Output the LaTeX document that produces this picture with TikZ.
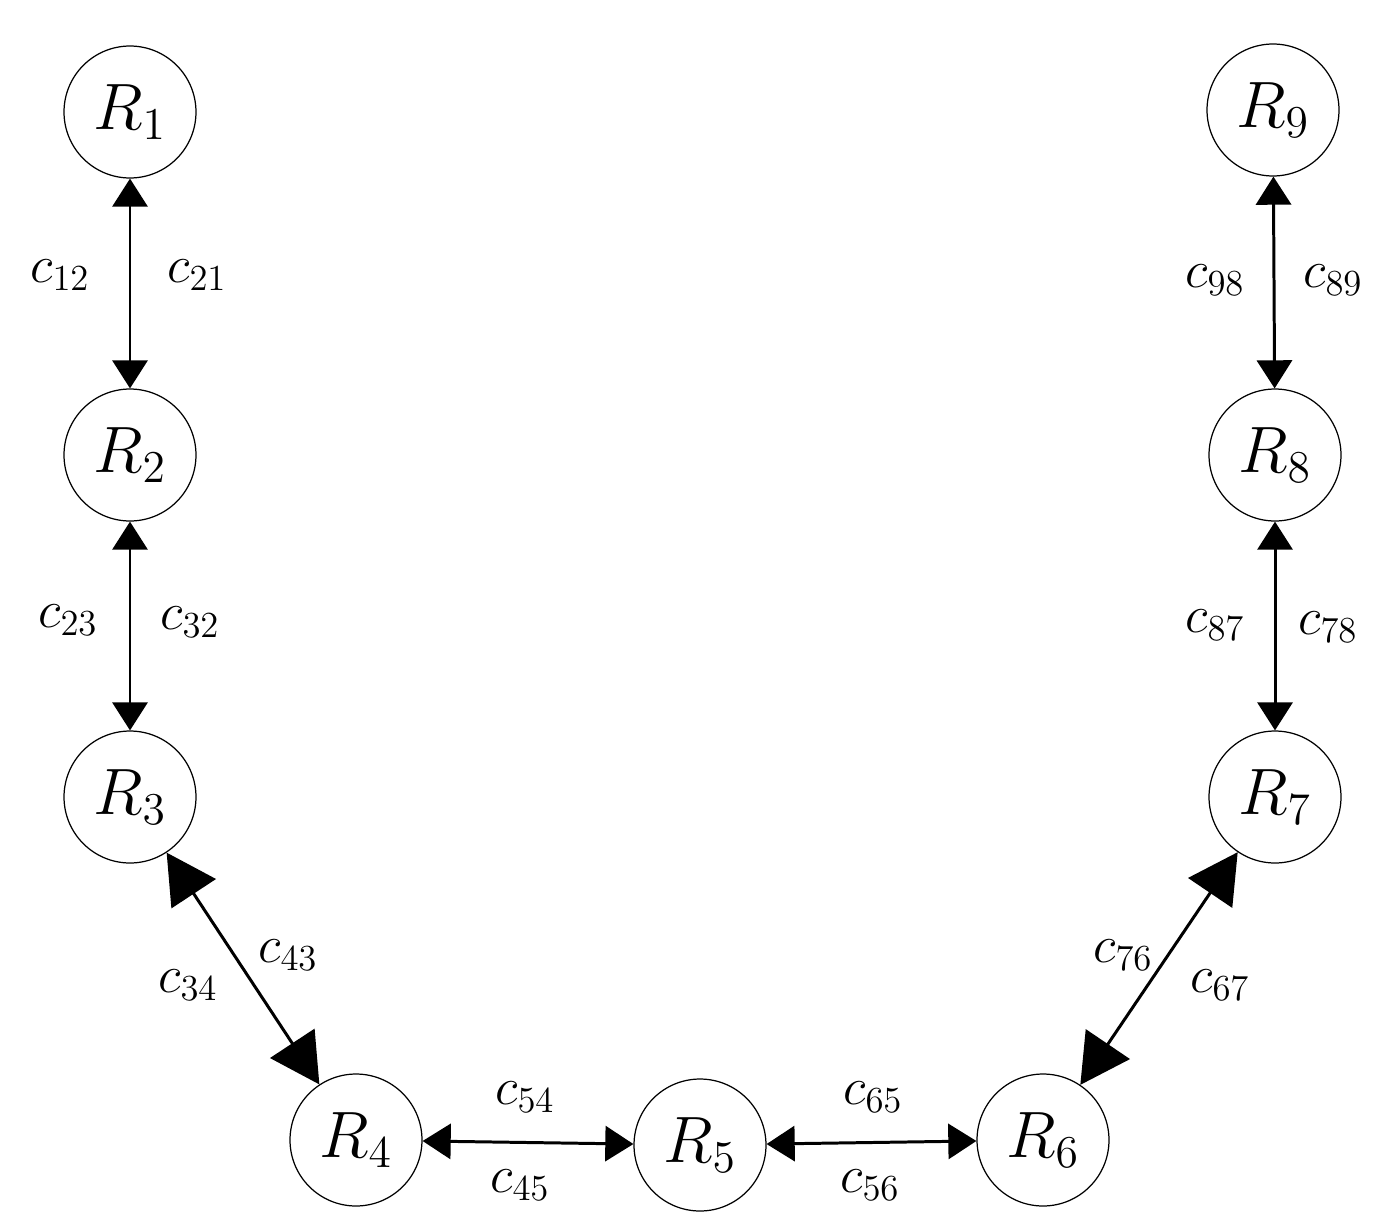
\documentclass[tikz,border=0pt]{standalone}
\usepackage{graphicx}
\usetikzlibrary{arrows.meta}
\newcommand{\myR}[1]{\scalebox{1.8}{$R_{#1}$}}
\newcommand{\myC}[1]{\scalebox{1.45}{$c_{#1}$}}
\begin{document}
\begin{tikzpicture}[x=0.02cm,y=-0.02cm,
 st/.style={circle,draw,line width=0.7pt,minimum size=2.64cm,inner sep=0pt,font=\huge},
 lb/.style={font=\huge},
 e/.style={line width=1.7pt,{Triangle[width=20pt,length=16pt]}-{Triangle[width=20pt,length=16pt]}},
 eb/.style={line width=1.7pt,{Triangle[width=30pt,length=28pt]}-{Triangle[width=30pt,length=28pt]}}]
\useasboundingbox (0,0) rectangle (1392,1231);
\node[st] (r1) at (130,112) {\myR1};
\node[st] (r2) at (130,455) {\myR2};
\node[st] (r3) at (130,797) {\myR3};
\node[st] (r4) at (356,1140) {\myR4};
\node[st] (r5) at (700,1145) {\myR5};
\node[st] (r6) at (1043,1140) {\myR6};
\node[st] (r7) at (1275,797) {\myR7};
\node[st] (r8) at (1275,455) {\myR8};
\node[st] (r9) at (1273,110) {\myR9};
\draw[e] (r1) -- (r2);
\draw[e] (r2) -- (r3);
\draw[eb] (r3) -- (r4);
\draw[e] (r4) -- (r5);
\draw[e] (r5) -- (r6);
\draw[eb] (r6) -- (r7);
\draw[e] (r7) -- (r8);
\draw[e] (r8) -- (r9);
\node[lb] at (60,275) {\myC{12}};
\node[lb] at (197,275) {\myC{21}};
\node[lb] at (68,620) {\myC{23}};
\node[lb] at (190,622) {\myC{32}};
\node[lb] at (188,985) {\myC{34}};
\node[lb] at (288,955) {\myC{43}};
\node[lb] at (525,1097) {\myC{54}};
\node[lb] at (520,1185) {\myC{45}};
\node[lb] at (873,1097) {\myC{65}};
\node[lb] at (870,1185) {\myC{56}};
\node[lb] at (1123,955) {\myC{76}};
\node[lb] at (1220,985) {\myC{67}};
\node[lb] at (1215,280) {\myC{98}};
\node[lb] at (1333,280) {\myC{89}};
\node[lb] at (1215,625) {\myC{87}};
\node[lb] at (1328,627) {\myC{78}};
\end{tikzpicture}
\end{document}
